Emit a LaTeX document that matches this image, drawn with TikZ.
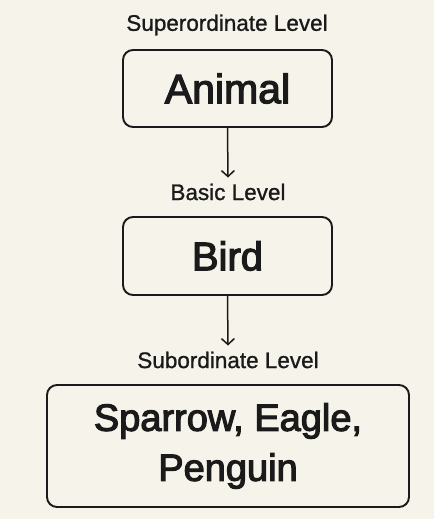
\documentclass[tikz,border=0pt]{standalone}
\usepackage{fontspec}
\setmainfont{Liberation Sans}
\newfontfamily\medfont{Liberation Sans}[FakeBold=3]
\newfontfamily\lblfont{Liberation Sans}[FakeBold=1]
\usetikzlibrary{arrows.meta}
\definecolor{bg}{HTML}{F5F3EA}
\definecolor{ink}{HTML}{1A1A1A}
\tikzset{
  levelbox/.style={draw=ink, line width=1.9pt, rounded corners=10pt, fill=bg, text=ink, inner sep=0pt},
  levellabel/.style={text=ink, font=\lblfont\fontsize{22.5}{27}\selectfont, inner sep=0pt},
  conn/.style={draw=ink, line width=1.5pt, -{Straight Barb[length=6pt,width=13pt,line width=1.5pt]}}
}
\begin{document}
\begin{tikzpicture}[x=1pt,y=-1pt]
\useasboundingbox[fill=bg] (0,0) rectangle (434,519);
\node[levellabel] (l1) at (227,25) {Superordinate Level};
\node[levelbox, minimum width=209pt, minimum height=77pt, font=\medfont\fontsize{41}{48}\selectfont] (a) at (227.5,88.5) {Animal};
\node[levellabel] (l2) at (228,192) {Basic Level};
\node[levelbox, minimum width=209pt, minimum height=78pt, font=\medfont\fontsize{40}{48}\selectfont] (b) at (227.5,256) {Bird};
\node[levellabel] (l3) at (228,360) {Subordinate Level};
\node[levelbox, minimum width=362pt, minimum height=122pt, align=center, font=\medfont\fontsize{38}{50}\selectfont] (c) at (228,446) {Sparrow, Eagle,\\Penguin};
\draw[conn] (a.south) -- ([yshift=6pt]l2.north);
\draw[conn] (b.south) -- ([yshift=6pt]l3.north);
\end{tikzpicture}
\end{document}
